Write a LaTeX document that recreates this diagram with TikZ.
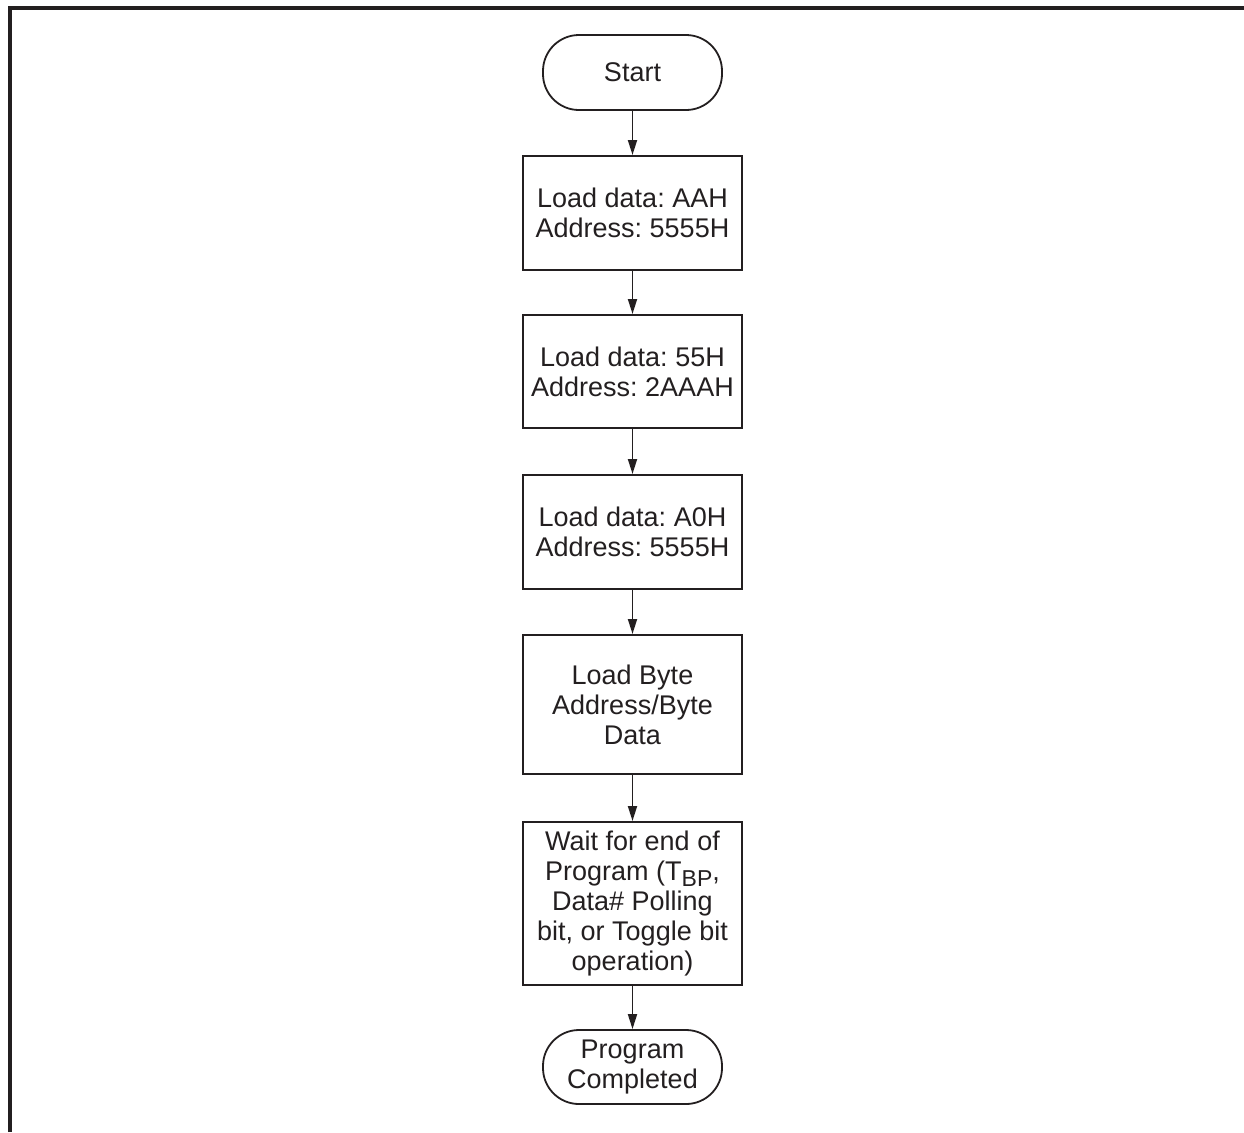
\documentclass[tikz,border=0pt]{standalone}
\usepackage{fontspec}
\setmainfont{Liberation Sans}
\usetikzlibrary{arrows.meta}
\definecolor{ink}{HTML}{231F20}
\frenchspacing

\begin{document}
\begin{tikzpicture}[
        x=0.5pt, y=-0.5pt,
        every node/.style={text=ink, font=\fontsize{13.5}{15}\selectfont, align=center, inner sep=0pt},
        terminal/.style={draw=ink, line width=0.9pt, rounded corners=18pt, minimum width=89.5pt, minimum height=37.5pt},
        stepbox/.style={draw=ink, line width=1pt, minimum width=109.5pt},
        arr/.style={draw=ink, line width=0.9pt, -{Triangle[length=7.5pt, width=4.5pt]}}
    ]
        \useasboundingbox (0,0) rectangle (1244,1132);

        % Frame (top and left edge only)
        \draw[ink, line width=1.6pt] (10,1132) -- (10,8) -- (1244,8);

        % Flow chart steps, top to bottom
        \node[terminal] (start) at (632.5,72.5) {Start};
        \node[stepbox, minimum height=57pt] (ldAA) at (632.5,213) {Load data: AAH\\Address: 5555H};
        \node[stepbox, minimum height=56.5pt] (ld55) at (632.5,371.5) {Load data: 55H\\Address: 2AAAH};
        \node[stepbox, minimum height=57pt] (ldA0) at (632.5,532) {Load data: A0H\\Address: 5555H};
        \node[stepbox, minimum height=69.5pt] (ldbyte) at (632.5,704.5) {Load Byte\\Address/Byte\\Data};
        \node[stepbox, minimum height=81.5pt] (wait) at (632.5,903.5) {Wait for end of\\Program (T\raisebox{-3pt}{\fontsize{11.5}{11.5}\selectfont BP},\\Data\# Polling\\bit, or Toggle bit\\operation)};
        \node[terminal, minimum height=37pt] (done) at (632.5,1067) {Program\\Completed};

        % Arrows between steps
        \foreach \a/\b in {start/ldAA, ldAA/ld55, ld55/ldA0, ldA0/ldbyte, ldbyte/wait, wait/done}
            \draw[arr] (\a) -- (\b);
    \end{tikzpicture}
\end{document}
